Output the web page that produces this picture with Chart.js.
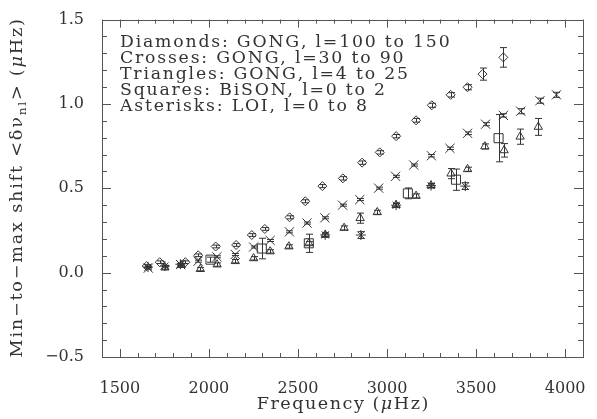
<!DOCTYPE html>
<html>
<head>
<meta charset="utf-8">
<script src="https://cdn.jsdelivr.net/npm/chart.js@4.4.1/dist/chart.umd.min.js"></script>
<style>
  html, body { margin: 0; padding: 0; background: #fff; }
  #plot { display: block; }
</style>
</head>
<body>
<canvas id="plot" width="597" height="419"></canvas>
<script>
// Frequency (uHz), min-to-max shift (uHz) and 1-sigma error for each data set

// GONG, l = 100..150
var diamondFreq  = [1651, 1724, 1868, 1940, 2038, 2153, 2241, 2314, 2453, 2541, 2637, 2752, 2860, 2959, 3051, 3163, 3251, 3357, 3452, 3536, 3653];
var diamondShift = [0.039, 0.062, 0.062, 0.103, 0.155, 0.164, 0.223, 0.259, 0.328, 0.423, 0.513, 0.559, 0.652, 0.713, 0.809, 0.903, 0.992, 1.054, 1.099, 1.177, 1.276];
var diamondErr   = [0.008, 0.008, 0.008, 0.008, 0.008, 0.008, 0.008, 0.008, 0.009, 0.009, 0.009, 0.010, 0.010, 0.010, 0.010, 0.011, 0.012, 0.013, 0.015, 0.036, 0.058];

// GONG, l = 30..90
var crossFreq  = [1660, 1841, 1939, 2045, 2148, 2251, 2344, 2452, 2551, 2651, 2750, 2847, 2953, 3048, 3150, 3249, 3353, 3452, 3553, 3653, 3750, 3858, 3951];
var crossShift = [0.027, 0.048, 0.068, 0.094, 0.108, 0.152, 0.191, 0.242, 0.294, 0.325, 0.400, 0.433, 0.501, 0.571, 0.638, 0.693, 0.737, 0.826, 0.880, 0.932, 0.957, 1.019, 1.054];
var crossErr   = [0.006, 0.006, 0.006, 0.006, 0.006, 0.006, 0.006, 0.006, 0.006, 0.006, 0.006, 0.006, 0.006, 0.006, 0.006, 0.007, 0.007, 0.008, 0.009, 0.010, 0.015, 0.015, 0.015];

// GONG, l = 4..25
var triFreq  = [1753, 1845, 1952, 2046, 2148, 2251, 2344, 2449, 2561, 2653, 2759, 2849, 2945, 3051, 3163, 3247, 3359, 3452, 3549, 3657, 3747, 3849];
var triShift = [0.030, 0.045, 0.021, 0.048, 0.068, 0.085, 0.126, 0.155, 0.174, 0.224, 0.265, 0.323, 0.358, 0.400, 0.455, 0.516, 0.587, 0.613, 0.748, 0.725, 0.806, 0.864];
var triErr   = [0.010, 0.010, 0.010, 0.010, 0.010, 0.010, 0.010, 0.010, 0.010, 0.012, 0.012, 0.030, 0.012, 0.012, 0.012, 0.012, 0.030, 0.012, 0.015, 0.040, 0.045, 0.050];

// BiSON, l = 0..2
var squareFreq  = [2009, 2297, 2561, 3117, 3387, 3626];
var squareShift = [0.077, 0.143, 0.174, 0.470, 0.551, 0.797];
var squareErr   = [0.015, 0.061, 0.054, 0.032, 0.063, 0.140];

// LOI, l = 0..8
var starFreq  = [1658, 1753, 1840, 2653, 2853, 3051, 3247, 3439];
var starShift = [0.033, 0.039, 0.050, 0.224, 0.223, 0.400, 0.516, 0.513];
var starErr   = [0.005, 0.005, 0.005, 0.010, 0.020, 0.010, 0.010, 0.020];

var xTicksMajor = [1500, 2000, 2500, 3000, 3500, 4000];
var yTicksMajor = [-0.5, 0.0, 0.5, 1.0, 1.5];

var legendLines = [
  'Diamonds: GONG, l=100 to 150',
  'Crosses: GONG, l=30 to 90',
  'Triangles: GONG, l=4 to 25',
  'Squares: BiSON, l=0 to 2',
  'Asterisks: LOI, l=0 to 8'
];

var INK = '#333';
var FONT = '"DejaVu Serif", serif';

function points(xs, ys) {
  return xs.map(function(x, i) { return { x: x, y: ys[i] }; });
}

function series(xs, ys, errs, style, r) {
  return {
    data: points(xs, ys),
    errors: errs,
    pointStyle: style,
    pointRadius: r,
    pointBorderColor: INK,
    pointBackgroundColor: 'rgba(0,0,0,0)',
    pointBorderWidth: 1,
    showLine: false
  };
}

// text drawn char by char, a little wider than the font, like the old plotting fonts
function drawText(ctx, parts, x, y, size, spacing, stretch, align) {
  function font(p) {
    return (p.italic ? 'italic ' : '') + (p.sub ? Math.round(size * 0.7) : size) + 'px ' + FONT;
  }
  var total = 0;
  parts.forEach(function(p) {
    ctx.font = font(p);
    for (var ch of p.t) total += ctx.measureText(ch).width * stretch + spacing;
  });
  total -= spacing;
  var cx = align === 'center' ? x - total / 2 : x;
  parts.forEach(function(p) {
    ctx.font = font(p);
    for (var ch of p.t) {
      ctx.save();
      ctx.translate(cx, y + (p.sub ? size * 0.3 : 0));
      ctx.scale(stretch, 1);
      ctx.fillText(ch, 0, 0);
      ctx.restore();
      cx += ctx.measureText(ch).width * stretch + spacing;
    }
  });
}

function isMajor(v, list) {
  return list.some(function(m) { return Math.abs(m - v) < 1e-6; });
}

var errorBars = {
  id: 'errorBars',
  beforeDatasetsDraw: function(chart) {
    var ctx = chart.ctx, xs = chart.scales.x, ys = chart.scales.y;
    ctx.save();
    ctx.strokeStyle = INK;
    ctx.lineWidth = 1;
    chart.data.datasets.forEach(function(ds) {
      ds.data.forEach(function(p, i) {
        var e = ds.errors[i];
        var px = Math.round(xs.getPixelForValue(p.x)) + 0.5;
        var lo = ys.getPixelForValue(p.y - e);
        var hi = ys.getPixelForValue(p.y + e);
        ctx.beginPath();
        ctx.moveTo(px, lo); ctx.lineTo(px, hi);
        ctx.moveTo(px - 3.5, lo); ctx.lineTo(px + 3.5, lo);
        ctx.moveTo(px - 3.5, hi); ctx.lineTo(px + 3.5, hi);
        ctx.stroke();
      });
    });
    ctx.restore();
  }
};

var frame = {
  id: 'frame',
  afterDraw: function(chart) {
    var ctx = chart.ctx, a = chart.chartArea, xs = chart.scales.x, ys = chart.scales.y;
    ctx.save();
    ctx.strokeStyle = '#555';
    ctx.lineWidth = 1;
    ctx.strokeRect(Math.round(a.left) + 0.5, Math.round(a.top) + 0.5,
                   Math.round(a.right - a.left), Math.round(a.bottom - a.top));

    // inward tick marks on all four sides
    ctx.beginPath();
    xs.ticks.forEach(function(t) {
      var px = Math.round(xs.getPixelForValue(t.value)) + 0.5;
      var len = isMajor(t.value, xTicksMajor) ? 8 : 4;
      ctx.moveTo(px, a.bottom); ctx.lineTo(px, a.bottom - len);
      ctx.moveTo(px, a.top); ctx.lineTo(px, a.top + len);
    });
    ys.ticks.forEach(function(t) {
      var py = Math.round(ys.getPixelForValue(t.value)) + 0.5;
      var len = isMajor(t.value, yTicksMajor) ? 9 : 5;
      ctx.moveTo(a.left, py); ctx.lineTo(a.left + len, py);
      ctx.moveTo(a.right, py); ctx.lineTo(a.right - len, py);
    });
    ctx.stroke();

    ctx.fillStyle = INK;
    ctx.textBaseline = 'middle';

    legendLines.forEach(function(line, i) {
      drawText(ctx, [{ t: line }], a.left + 18, 43 + i * 16, 16, 1.8, 1.08, 'left');
    });

    drawText(ctx, [{ t: 'Frequency (' }, { t: 'μ', italic: true }, { t: 'Hz)' }],
             (a.left + a.right) / 2, 405, 16, 1.5, 1.1, 'center');

    ctx.save();
    ctx.translate(18, (a.top + a.bottom) / 2);
    ctx.rotate(-Math.PI / 2);
    drawText(ctx, [
      { t: 'Min−to−max shift <δν' },
      { t: 'nl', sub: true },
      { t: '> (' },
      { t: 'μ', italic: true },
      { t: 'Hz)' }
    ], 0, 0, 16, 1.8, 1.1, 'center');
    ctx.restore();

    ctx.restore();
  }
};

new Chart(document.getElementById('plot'), {
  type: 'scatter',
  data: {
    datasets: [
      series(diamondFreq, diamondShift, diamondErr, 'rectRot', 4.5),
      series(crossFreq, crossShift, crossErr, 'crossRot', 6.5),
      series(triFreq, triShift, triErr, 'triangle', 4.8),
      series(squareFreq, squareShift, squareErr, 'rect', 6.4),
      series(starFreq, starShift, starErr, 'star', 5)
    ]
  },
  options: {
    responsive: false,
    animation: false,
    devicePixelRatio: 1,
    layout: { padding: { top: 13, right: 9, bottom: 0, left: 0 } },
    plugins: { legend: { display: false }, tooltip: { enabled: false } },
    scales: {
      x: {
        type: 'linear',
        min: 1400,
        max: 4100,
        grid: { display: false },
        border: { display: false },
        ticks: {
          stepSize: 100,
          autoSkip: false,
          maxRotation: 0,
          padding: 14,
          color: INK,
          font: { family: FONT, size: 16 },
          callback: function(v) { return isMajor(v, xTicksMajor) ? String(v) : ''; }
        },
        afterFit: function(s) { s.height = 62; }
      },
      y: {
        min: -0.5,
        max: 1.5,
        grid: { display: false },
        border: { display: false },
        ticks: {
          stepSize: 0.1,
          autoSkip: false,
          padding: 10,
          color: INK,
          font: { family: FONT, size: 16 },
          callback: function(v) {
            return isMajor(v, yTicksMajor) ? v.toFixed(1).replace('-', '−') : '';
          }
        },
        afterFit: function(s) { s.width = 102; }
      }
    }
  },
  plugins: [errorBars, frame]
});
</script>
</body>
</html>
